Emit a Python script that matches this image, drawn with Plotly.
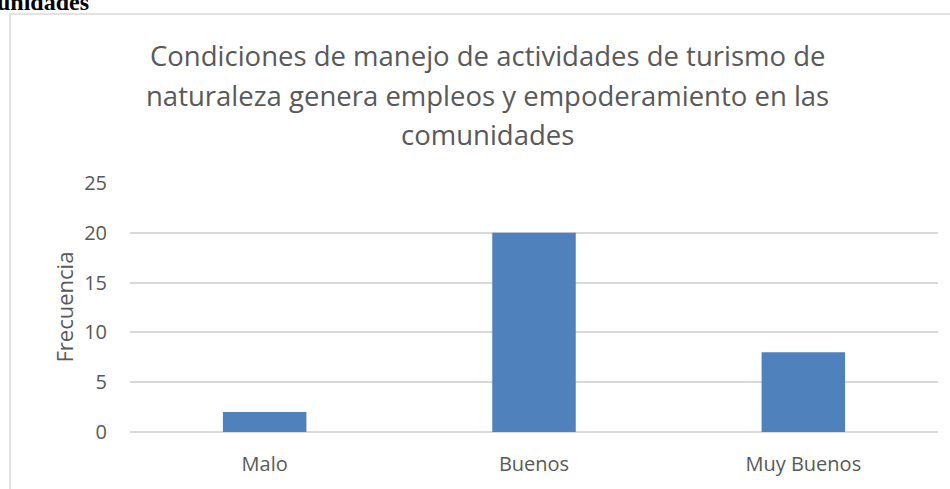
import plotly.graph_objects as go

categorias = ["Malo", "Buenos", "Muy Buenos"]
frecuencia = [2, 20, 8]
y_ticks = [0, 5, 10, 15, 20, 25]
titulo = [
    "Condiciones de manejo de actividades de turismo de",
    "naturaleza genera empleos y empoderamiento en las",
    "comunidades",
]

FONT = "Open Sans"
GRAY = "#595959"
GRID = "#D9D9D9"

fig = go.Figure()

fig.add_trace(go.Bar(
    x=categorias,
    y=frecuencia,
    marker_color="#4F81BD",
    marker_line_width=0,
    width=0.31,
))

# pixel -> paper helpers (plot area 130..938 x, 183..435 y)
def px_x(px):
    return (px - 130) / 808

def px_y(py):
    return (435 - py) / 252

annotations = []
for i, line in enumerate(titulo):
    annotations.append(dict(
        text=line, x=px_x(487), y=px_y(54 + 40 * i),
        xref="paper", yref="paper", showarrow=False,
        xanchor="center", yanchor="middle",
        font=dict(family=FONT, size=27.5, color=GRAY),
    ))

annotations.append(dict(
    text="Frecuencia", x=px_x(63), y=px_y(309),
    xref="paper", yref="paper", showarrow=False, textangle=-90,
    xanchor="center", yanchor="middle",
    font=dict(family=FONT, size=22, color=GRAY),
))

# cut-off heading of the surrounding document
annotations.append(dict(
    text="<b>unidades</b>", x=px_x(91), y=px_y(15),
    xref="paper", yref="paper", showarrow=False,
    xanchor="right", yanchor="bottom",
    font=dict(family="Liberation Serif", size=24, color="black"),
))

fig.update_layout(
    width=950,
    height=489,
    margin=dict(l=130, r=12, t=183, b=54),
    paper_bgcolor="white",
    plot_bgcolor="white",
    showlegend=False,
    annotations=annotations,
    shapes=[dict(
        type="rect", xref="paper", yref="paper",
        x0=px_x(10), x1=px_x(965), y0=px_y(520), y1=px_y(12),
        line=dict(color=GRID, width=1.5), fillcolor="rgba(0,0,0,0)",
        layer="below",
    )],
    xaxis=dict(
        showgrid=False, showline=False, ticks="",
        tickfont=dict(family=FONT, size=20, color=GRAY),
        ticklabelstandoff=18,
    ),
    yaxis=dict(
        range=[0, 25], tickvals=y_ticks,
        showgrid=True, gridcolor=GRID, gridwidth=1.5,
        zeroline=True, zerolinecolor=GRID, zerolinewidth=1.5,
        showline=False, ticks="",
        tickfont=dict(family=FONT, size=20, color=GRAY),
        ticklabelstandoff=22,
    ),
)

fig.write_html(
    "out.html",
    config={"displayModeBar": False},
    post_script="document.body.style.margin='0';",
)
